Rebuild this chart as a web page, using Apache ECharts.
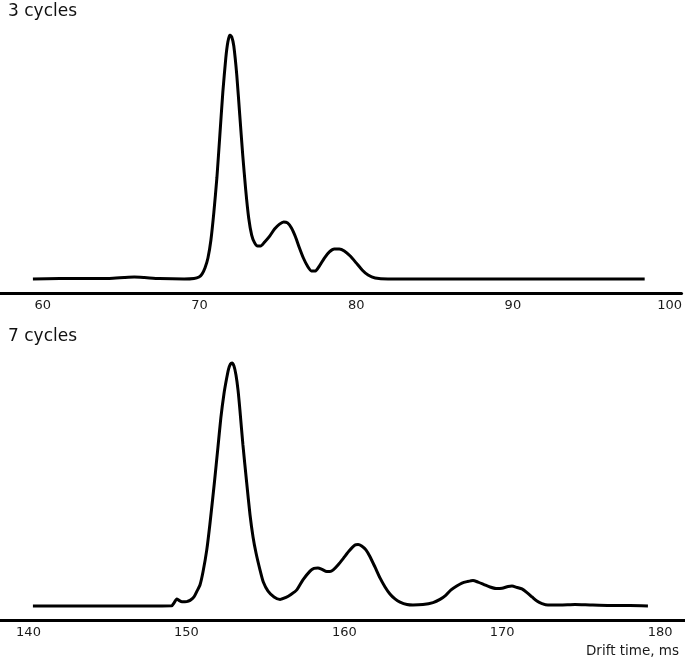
<!DOCTYPE html>
<html>
<head>
<meta charset="utf-8">
<script src="https://cdn.jsdelivr.net/npm/echarts@6/dist/echarts.min.js"></script>
<style>html,body{margin:0;padding:0;background:#fff}#c{width:685px;height:659px}</style>
</head>
<body>
<div id="c"></div>
<script>
// ---- data ----
const titles = ["3 cycles", "7 cycles"];
const xLabel = "Drift time, ms";
const ticks3 = [60, 70, 80, 90, 100];
const ticks7 = [140, 150, 160, 170, 180];

const time3 = [59.37,61.08,62.98,64.25,65.2,65.84,66.48,67.43,69.02,69.65,69.97,70.16,70.35,70.54,70.73,70.92,71.11,71.3,71.49,71.68,71.81,71.94,72.06,72.19,72.38,72.57,72.76,72.95,73.14,73.33,73.52,73.71,73.9,74.16,74.48,74.79,75.11,75.37,75.62,75.87,76.13,76.38,76.63,76.89,77.14,77.4,77.65,77.97,78.29,78.6,78.92,79.24,79.62,80.0,80.38,80.76,81.21,82.03,85.84,92.19,98.41];
const int3  = [0,0.2,0.2,0.2,0.6,0.8,0.6,0.2,0,0.2,0.8,2,4.5,8.6,16,27.5,41.4,59,76.6,90.6,97.1,100,99.2,95.5,83.6,67.2,50.8,36.5,25,18,14.8,13.5,13.5,15.2,17.6,20.5,22.5,23.4,23,20.9,17.2,12.7,8.6,5.3,3.3,3.3,5.3,8.6,11.1,12.3,12.3,11.5,9.4,6.6,3.7,1.6,0.4,0,0,0,0];

const time7 = [140.28,143.26,146.43,149.07,149.21,149.39,149.53,149.72,150.02,150.23,150.48,150.67,150.86,151.05,151.29,151.49,151.77,152.0,152.18,152.38,152.54,152.67,152.79,152.89,153.01,153.14,153.27,153.39,153.58,153.82,154.03,154.22,154.41,154.66,154.87,155.17,155.55,155.93,156.31,156.62,156.99,157.38,157.83,158.08,158.33,158.59,158.89,159.09,159.30,159.60,159.94,160.30,160.68,160.87,161.10,161.37,161.63,161.94,162.26,162.58,162.89,163.21,163.53,163.97,164.35,164.98,165.62,166.06,166.44,166.76,167.12,167.45,167.77,168.15,168.47,168.85,169.23,169.61,169.99,170.37,170.62,170.94,171.25,171.57,171.89,172.20,172.52,172.90,173.66,174.61,175.56,176.82,178.09,179.23];
const int7  = [0,0,0,0.1,1.2,2.9,2.3,1.7,1.8,2.3,3.7,6.1,8.6,13.9,23,33.6,50.4,65.2,77.0,87.0,93.0,97.1,99.2,99.6,98.4,94.7,88.5,80.3,66,50.4,37.3,28.3,21.7,14.8,9.8,6.1,3.7,2.7,3.5,4.7,6.6,10.7,14.3,15.4,15.6,15,14.1,14.1,14.8,16.8,19.5,22.5,25,25.2,24.6,23,20.2,16,11.5,7.8,4.9,2.9,1.6,0.6,0.4,0.6,1.4,2.7,4.5,6.6,8.2,9.4,10,10.5,9.8,8.8,7.8,7.2,7.3,8,8.2,7.6,7,5.5,3.7,2,1,0.4,0.4,0.6,0.4,0.2,0.2,0];

// ---- chart ----
const FONT = "'DejaVu Sans', sans-serif";
const pairs = (xs, ys) => xs.map((x, i) => [x, ys[i]]);

function xAxisFor(idx, min, max, ticks) {
  return {
    type: 'value', gridIndex: idx, min: min, max: max,
    axisLine: { show: true, onZero: false, lineStyle: { color: '#000', width: 3 } },
    axisTick: { show: false },
    splitLine: { show: false },
    axisLabel: { customValues: ticks, margin: 6, color: '#1a1a1a', fontSize: 13, fontFamily: FONT,
                 showMinLabel: true, showMaxLabel: true }
  };
}
function yAxisFor(idx) {
  return { type: 'value', gridIndex: idx, min: -5.74, max: 100, show: false,
           splitLine: { show: false } };
}
const lineStyle = { color: '#000', width: 3 };

const chart = echarts.init(document.getElementById('c'), null, { renderer: 'canvas' });
chart.setOption({
  animation: false,
  backgroundColor: '#fff',
  title: [
    { text: titles[0], left: 8, top: 3, padding: 0, textStyle: { fontFamily: FONT, fontSize: 17, fontWeight: 'normal', color: '#111' } },
    { text: titles[1], left: 8, top: 328, padding: 0, textStyle: { fontFamily: FONT, fontSize: 17, fontWeight: 'normal', color: '#111' } },
    { text: xLabel, right: 6, top: 644, padding: 0, textStyle: { fontFamily: FONT, fontSize: 13.5, fontWeight: 'normal', color: '#1a1a1a' } }
  ],
  grid: [
    { left: 0, right: 0, top: 35, height: 258 },
    { left: 0, right: 0, top: 362, height: 258 }
  ],
  xAxis: [
    xAxisFor(0, 60 - 43 / 15.75, 60 + 642 / 15.75, ticks3),
    xAxisFor(1, 140 - 28.5 / 15.79, 140 + 656.5 / 15.79, ticks7)
  ],
  yAxis: [yAxisFor(0), yAxisFor(1)],
  series: [
    { type: 'line', xAxisIndex: 0, yAxisIndex: 0, data: pairs(time3, int3), showSymbol: false, smooth: 0.2, lineStyle: lineStyle },
    { type: 'line', xAxisIndex: 1, yAxisIndex: 1, data: pairs(time7, int7), showSymbol: false, smooth: 0.2, lineStyle: lineStyle }
  ]
});
</script>
</body>
</html>
